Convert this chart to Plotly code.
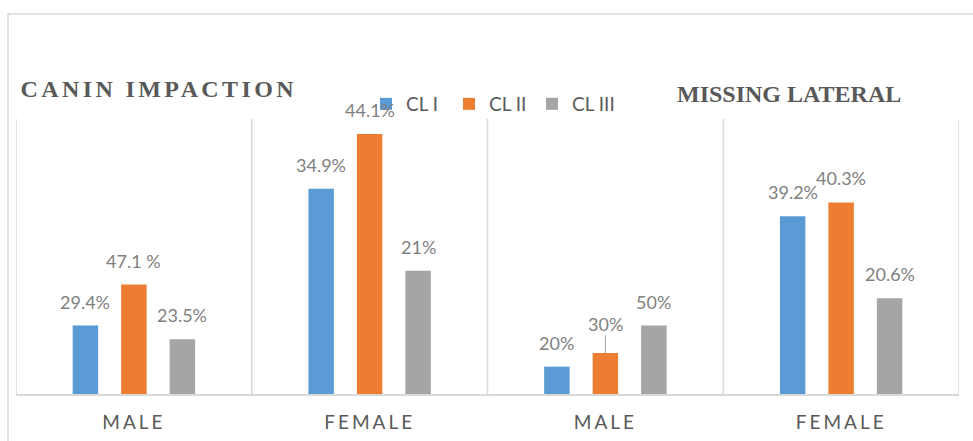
import plotly.graph_objects as go

# ---- data ----
categories = ["MALE", "FEMALE", "MALE", "FEMALE"]
series_names = ["CL I", "CL II", "CL III"]
cl1_counts = [5, 15, 2, 13]
cl2_counts = [8, 19, 3, 14]
cl3_counts = [4, 9, 5, 7]
cl1_labels = ["29.4%", "34.9%", "20%", "39.2%"]
cl2_labels = ["47.1 %", "44.1%", "30%", "40.3%"]
cl3_labels = ["23.5%", "21%", "50%", "20.6%"]
panel_titles = ["CANIN IMPACTION", "MISSING LATERAL"]

# ---- style ----
colors = ["#5B9BD5", "#ED7D31", "#A5A5A5"]
W, H = 973, 441
ML, MR, MT, MB = 16, 14, 119, 47
PW, PH = W - ML - MR, H - MT - MB
BARGAP = 0.383
BARGROUPGAP = 0.475
slot = (1 - BARGAP) / 3
grid_col = "#D9D9D9"
label_col = "#7F7F7F"
text_col = "#595959"

xs = list(range(len(categories)))
counts = [cl1_counts, cl2_counts, cl3_counts]
labels = [cl1_labels, cl2_labels, cl3_labels]

fig = go.Figure()
for name, vals, col in zip(series_names, counts, colors):
    fig.add_trace(go.Bar(x=xs, y=vals, name=name, marker=dict(color=col, line=dict(width=0)),
                         hoverinfo="skip"))

annotations = []
for si, (vals, labs) in enumerate(zip(counts, labels)):
    for gi, (v, t) in enumerate(zip(vals, labs)):
        bx = xs[gi] + (si - 1) * slot
        if t == "30%":
            annotations.append(dict(x=bx, y=v, xref="x", yref="y", text=t, showarrow=True,
                                    arrowhead=0, arrowwidth=1, arrowcolor="#A6A6A6",
                                    ax=0, ay=-29, standoff=0, borderpad=0,
                                    font=dict(family="Lato", size=18, color=label_col)))
        else:
            annotations.append(dict(x=bx, y=v, xref="x", yref="y", text=t, showarrow=False,
                                    yanchor="middle", xanchor="center", yshift=24,
                                    font=dict(family="Lato", size=18, color=label_col)))

# panel titles
annotations.append(dict(x=(44 - ML) / PW, y=(MT + PH - 89) / PH, xref="paper", yref="paper",
                        text=panel_titles[0], showarrow=False, xanchor="left", yanchor="middle",
                        font=dict(family="Liberation Serif", size=24, color=text_col, weight="bold")))
annotations.append(dict(x=(675 - ML) / PW, y=(MT + PH - 94) / PH, xref="paper", yref="paper",
                        text=panel_titles[1], showarrow=False, xanchor="left", yanchor="middle",
                        font=dict(family="Liberation Serif", size=24, color=text_col, weight="bold")))

shapes = []
for i in range(len(categories) + 1):
    shapes.append(dict(type="line", xref="x", yref="paper", x0=i - 0.5, x1=i - 0.5, y0=0, y1=1,
                       line=dict(color=grid_col, width=1.5), layer="below"))
# outer chart border
shapes.append(dict(type="rect", xref="paper", yref="paper",
                   x0=(8 - ML) / PW, x1=(W + 10 - ML) / PW,
                   y0=(MT + PH - (H + 10)) / PH, y1=(MT + PH - 14) / PH,
                   line=dict(color=grid_col, width=1.5), layer="below"))

fig.update_layout(
    template="none",
    width=W, height=H,
    margin=dict(l=ML, r=MR, t=MT, b=MB, pad=0, autoexpand=False),
    paper_bgcolor="white", plot_bgcolor="white",
    barmode="group", bargap=BARGAP, bargroupgap=BARGROUPGAP,
    showlegend=True,
    legend=dict(orientation="h", x=(366 - ML) / PW, xanchor="left",
                y=(MT + PH - 104) / PH, yanchor="middle",
                font=dict(family="Lato", size=19, color=text_col),
                entrywidth=38, entrywidthmode="pixels", bgcolor="rgba(0,0,0,0)",
                borderwidth=0, itemclick=False, itemdoubleclick=False),
    xaxis=dict(range=[-0.5, len(categories) - 0.5], tickmode="array", tickvals=xs,
               ticktext=categories, showgrid=False, zeroline=False, showline=True,
               linecolor=grid_col, linewidth=1.5, ticks="", ticklabelstandoff=10,
               automargin=False,
               tickfont=dict(family="Lato", size=19, color=text_col), fixedrange=True),
    yaxis=dict(range=[0, 20.1], visible=False, showgrid=False, zeroline=False,
               automargin=False, fixedrange=True),
    annotations=annotations,
    shapes=shapes,
    hovermode=False,
)

post = """
document.body.style.margin = '0';
document.body.style.overflow = 'hidden';
var gd = document.getElementById('{plot_id}');
gd.querySelectorAll('.xtick text').forEach(function(t){ t.style.letterSpacing='3px'; });
gd.querySelectorAll('.annotation-text').forEach(function(t){
  if (t.textContent === 'CANIN IMPACTION') { t.style.letterSpacing='3.4px'; }
});
"""
fig.write_html("out.html", config={"displayModeBar": False}, post_script=post)
